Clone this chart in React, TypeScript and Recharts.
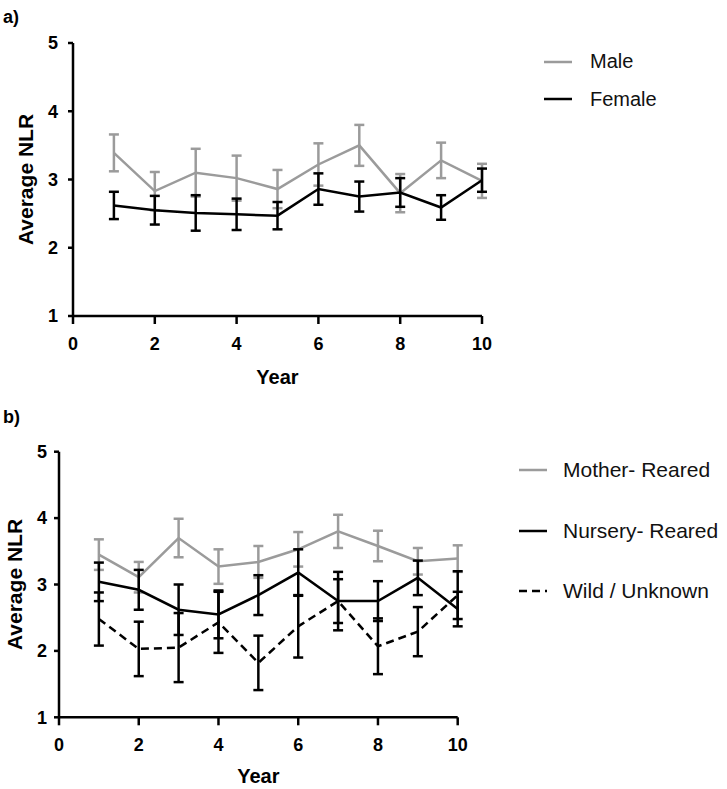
import { LineChart, Line, XAxis, YAxis, ErrorBar, Legend, Label } from 'recharts';

const years = [1, 2, 3, 4, 5, 6, 7, 8, 9, 10];
const xTicks = [0, 2, 4, 6, 8, 10];
const yTicks = [1, 2, 3, 4, 5];

// panel a
const male = [3.39, 2.83, 3.1, 3.02, 2.86, 3.22, 3.5, 2.8, 3.28, 2.98];
const maleSem = [0.27, 0.28, 0.35, 0.33, 0.28, 0.31, 0.3, 0.28, 0.26, 0.25];
const female = [2.62, 2.55, 2.51, 2.49, 2.47, 2.86, 2.75, 2.81, 2.59, 2.99];
const femaleSem = [0.2, 0.21, 0.26, 0.23, 0.2, 0.23, 0.22, 0.21, 0.18, 0.17];

// panel b
const mother = [3.45, 3.11, 3.7, 3.27, 3.34, 3.53, 3.8, 3.58, 3.35, 3.39];
const motherSem = [0.23, 0.23, 0.29, 0.26, 0.24, 0.26, 0.25, 0.23, 0.2, 0.2];
const nursery = [3.04, 2.92, 2.62, 2.55, 2.84, 3.18, 2.75, 2.75, 3.1, 2.63];
const nurserySem = [0.29, 0.3, 0.38, 0.36, 0.3, 0.35, 0.33, 0.3, 0.26, 0.26];
const wild = [2.48, 2.03, 2.05, 2.43, 1.82, 2.37, 2.75, 2.07, 2.29, 2.84];
const wildSem = [0.4, 0.41, 0.52, 0.46, 0.41, 0.47, 0.44, 0.42, 0.37, 0.36];

const FONT = '"Liberation Sans", Arial, sans-serif';
const GRAY = '#9b9b9b';
const BLACK = '#000';

const dataA = years.map((year, i) => ({
  year,
  male: male[i],
  maleSem: maleSem[i],
  female: female[i],
  femaleSem: femaleSem[i],
}));

const dataB = years.map((year, i) => ({
  year,
  mother: mother[i],
  motherSem: motherSem[i],
  nursery: nursery[i],
  nurserySem: nurserySem[i],
  wild: wild[i],
  wildSem: wildSem[i],
}));

interface LegendItem {
  name: string;
  color: string;
  dash?: string;
}

const legendA: LegendItem[] = [
  { name: 'Male', color: GRAY },
  { name: 'Female', color: BLACK },
];

const legendB: LegendItem[] = [
  { name: 'Mother- Reared', color: GRAY },
  { name: 'Nursery- Reared', color: BLACK },
  { name: 'Wild / Unknown', color: BLACK, dash: '8 5' },
];

function makeLegend(items: LegendItem[], rowHeight: number, gap: number, fontSize: number) {
  return () => (
    <div style={{ fontFamily: FONT, fontSize, color: '#111' }}>
      {items.map((it) => (
        <div key={it.name} style={{ height: rowHeight, display: 'flex', alignItems: 'center' }}>
          <svg width={28} height={6} style={{ marginRight: gap, display: 'block' }}>
            <line x1={0} y1={3} x2={28} y2={3} stroke={it.color} strokeWidth={2.5} strokeDasharray={it.dash} />
          </svg>
          <span style={{ whiteSpace: 'nowrap' }}>{it.name}</span>
        </div>
      ))}
    </div>
  );
}

const axisLine = { stroke: BLACK, strokeWidth: 2.5 };
const tickStyle = { fill: BLACK, fontSize: 18, fontWeight: 700, fontFamily: FONT };

function yLabel(baselineX: number) {
  return (props: any) => {
    const vb = props.viewBox;
    const cx = vb.x + baselineX;
    const cy = vb.y + vb.height / 2;
    return (
      <text
        x={cx}
        y={cy}
        transform={`rotate(-90 ${cx} ${cy})`}
        textAnchor="middle"
        fontFamily={FONT}
        fontSize={21}
        fontWeight={700}
        fill={BLACK}
      >
        Average NLR
      </text>
    );
  };
}

function xLabel(baselineY: number) {
  return (props: any) => {
    const vb = props.viewBox;
    return (
      <text
        x={vb.x + vb.width / 2}
        y={vb.y + baselineY}
        textAnchor="middle"
        fontFamily={FONT}
        fontSize={20}
        fontWeight={700}
        fill={BLACK}
      >
        Year
      </text>
    );
  };
}

const panelTitle = (top: number): React.CSSProperties => ({
  position: 'absolute',
  left: 3,
  top,
  fontFamily: FONT,
  fontSize: 18,
  lineHeight: '18px',
  fontWeight: 700,
});

export default function App() {
  return (
    <div style={{ position: 'absolute', left: 0, top: 0, width: 727, height: 789, background: '#fff' }}>
      <div style={panelTitle(8)}>a)</div>
      <div style={panelTitle(408)}>b)</div>

      <div style={{ position: 'absolute', left: 0, top: 0 }}>
        <LineChart width={727} height={400} data={dataA} margin={{ top: 43, right: 245, bottom: 24, left: 12 }}>
          <XAxis
            dataKey="year"
            type="number"
            domain={[0, 10]}
            ticks={xTicks}
            height={60}
            axisLine={axisLine}
            tickLine={axisLine}
            tickSize={8}
            tickMargin={13}
            tick={tickStyle}
          >
            <Label content={xLabel(68)} />
          </XAxis>
          <YAxis
            type="number"
            domain={[1, 5]}
            ticks={yTicks}
            width={61}
            axisLine={axisLine}
            tickLine={axisLine}
            tickSize={5}
            tickMargin={10}
            tick={tickStyle}
          >
            <Label content={yLabel(21)} />
          </YAxis>
          <Legend
            layout="vertical"
            align="center"
            verticalAlign="middle"
            content={makeLegend(legendA, 37.5, 18, 20)}
            wrapperStyle={{ left: 544, top: 43, width: 180, height: 80 }}
          />
          <Line dataKey="male" name="Male" stroke={GRAY} strokeWidth={2.5} dot={false} isAnimationActive={false}>
            <ErrorBar dataKey="maleSem" width={5} stroke={GRAY} strokeWidth={2.5} isAnimationActive={false} />
          </Line>
          <Line dataKey="female" name="Female" stroke={BLACK} strokeWidth={2.5} dot={false} isAnimationActive={false}>
            <ErrorBar dataKey="femaleSem" width={5} stroke={BLACK} strokeWidth={2.5} isAnimationActive={false} />
          </Line>
        </LineChart>
      </div>

      <div style={{ position: 'absolute', left: 0, top: 400 }}>
        <LineChart width={727} height={389} data={dataB} margin={{ top: 51.7, right: 269.3, bottom: 11.7, left: 9 }}>
          <XAxis
            dataKey="year"
            type="number"
            domain={[0, 10]}
            ticks={xTicks}
            height={60}
            axisLine={axisLine}
            tickLine={axisLine}
            tickSize={8}
            tickMargin={13}
            tick={tickStyle}
          >
            <Label content={xLabel(66)} />
          </XAxis>
          <YAxis
            type="number"
            domain={[1, 5]}
            ticks={yTicks}
            width={50}
            axisLine={axisLine}
            tickLine={axisLine}
            tickSize={5}
            tickMargin={7}
            tick={tickStyle}
          >
            <Label content={yLabel(12.7)} />
          </YAxis>
          <Legend
            layout="vertical"
            align="center"
            verticalAlign="middle"
            content={makeLegend(legendB, 60.5, 16, 21)}
            wrapperStyle={{ left: 519, top: 39.75, width: 208, height: 182 }}
          />
          <Line dataKey="mother" name="Mother- Reared" stroke={GRAY} strokeWidth={2.5} dot={false} isAnimationActive={false}>
            <ErrorBar dataKey="motherSem" width={5} stroke={GRAY} strokeWidth={2.5} isAnimationActive={false} />
          </Line>
          <Line
            dataKey="wild"
            name="Wild / Unknown"
            stroke={BLACK}
            strokeWidth={2.5}
            strokeDasharray="8 5"
            dot={false}
            isAnimationActive={false}
          >
            <ErrorBar dataKey="wildSem" width={5} stroke={BLACK} strokeWidth={2.5} isAnimationActive={false} />
          </Line>
          <Line dataKey="nursery" name="Nursery- Reared" stroke={BLACK} strokeWidth={2.5} dot={false} isAnimationActive={false}>
            <ErrorBar dataKey="nurserySem" width={5} stroke={BLACK} strokeWidth={2.5} isAnimationActive={false} />
          </Line>
        </LineChart>
      </div>
    </div>
  );
}
